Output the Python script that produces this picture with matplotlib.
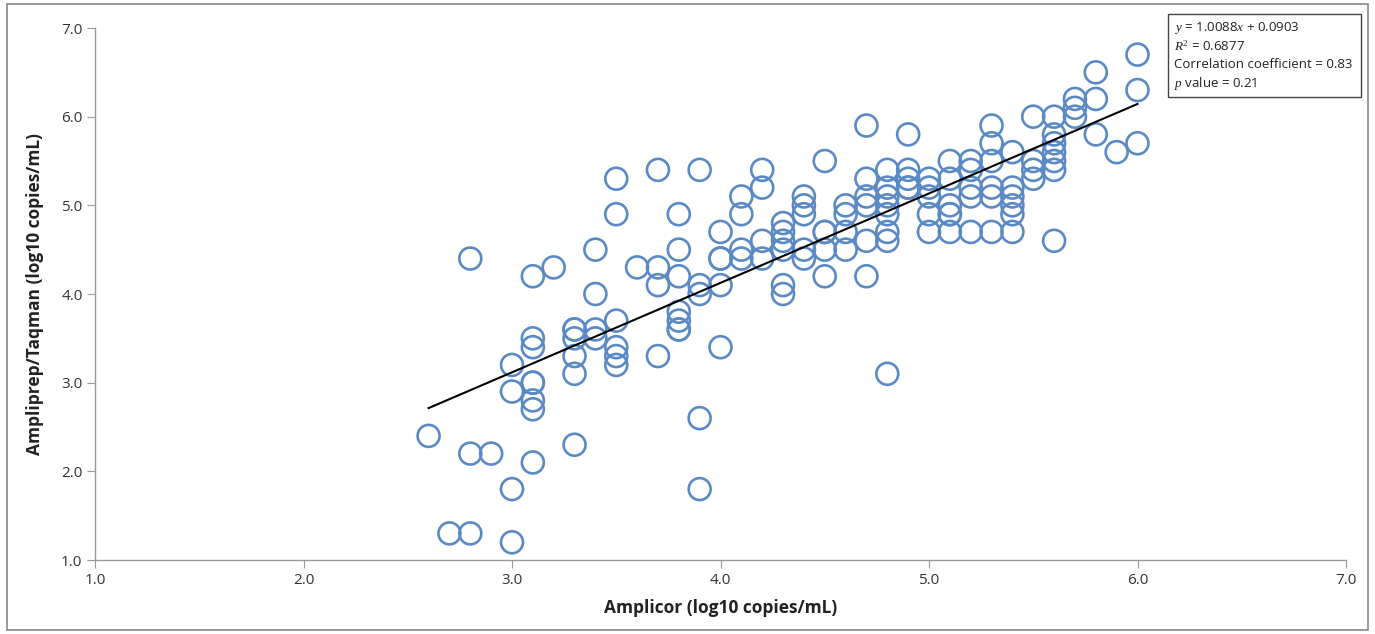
import matplotlib
matplotlib.use("Agg")
import matplotlib.pyplot as plt
from matplotlib.patches import Rectangle

plt.rcParams['font.family'] = ['Open Sans', 'DejaVu Sans']
plt.rcParams['mathtext.fontset'] = 'custom'
plt.rcParams['mathtext.it'] = 'Liberation Serif:italic'
plt.rcParams['mathtext.rm'] = 'Liberation Serif'

# data: Amplicor (x) vs Ampliprep/Taqman (y), log10 copies/mL
amplicor_cols = {
    2.6: [2.4],
    2.7: [1.3],
    2.8: [4.4, 2.2, 1.3],
    2.9: [2.2],
    3.0: [3.2, 2.9, 1.8, 1.2],
    3.1: [4.2, 3.5, 3.4, 3.0, 3.0, 2.8, 2.7, 2.1],
    3.2: [4.3],
    3.3: [3.6, 3.6, 3.5, 3.3, 3.1, 2.3],
    3.4: [4.5, 4.0, 3.6, 3.5],
    3.5: [5.3, 4.9, 3.7, 3.4, 3.3, 3.2],
    3.6: [4.3],
    3.7: [5.4, 4.3, 4.1, 3.3],
    3.8: [4.9, 4.5, 4.2, 3.8, 3.7, 3.6, 3.6],
    3.9: [5.4, 4.1, 4.0, 2.6, 1.8],
    4.0: [4.7, 4.4, 4.4, 4.1, 3.4],
    4.1: [5.1, 4.9, 4.5, 4.4],
    4.2: [5.4, 5.2, 4.6, 4.4],
    4.3: [4.8, 4.7, 4.6, 4.5, 4.1, 4.0],
    4.4: [5.1, 5.0, 4.9, 4.5, 4.4],
    4.5: [5.5, 4.7, 4.7, 4.5, 4.2],
    4.6: [5.0, 4.9, 4.7, 4.5],
    4.7: [5.9, 5.3, 5.1, 5.0, 4.6, 4.2],
    4.8: [5.4, 5.2, 5.1, 5.0, 4.9, 4.7, 4.6, 3.1],
    4.9: [5.8, 5.4, 5.3, 5.2, 5.2],
    5.0: [5.3, 5.2, 5.1, 4.9, 4.7],
    5.1: [5.5, 5.3, 5.0, 4.9, 4.9, 4.7],
    5.2: [5.5, 5.4, 5.2, 5.1, 4.7],
    5.3: [5.9, 5.7, 5.5, 5.2, 5.1, 4.7],
    5.4: [5.6, 5.2, 5.1, 5.0, 4.9, 4.7],
    5.5: [6.0, 5.5, 5.4, 5.3],
    5.6: [6.0, 5.8, 5.7, 5.6, 5.5, 5.4, 4.6],
    5.7: [6.2, 6.1, 6.0],
    5.8: [6.5, 6.2, 5.8],
    5.9: [5.6],
    6.0: [6.7, 6.3, 5.7],
}
x_vals = [x for x, ys in amplicor_cols.items() for _ in ys]
y_vals = [y for ys in amplicor_cols.values() for y in ys]

slope = 1.0088
intercept = 0.0903
fit_range = [2.6, 6.0]

x_ticks = [1.0, 2.0, 3.0, 4.0, 5.0, 6.0, 7.0]
y_ticks = [1.0, 2.0, 3.0, 4.0, 5.0, 6.0, 7.0]

W, H = 1375, 634
fig = plt.figure(figsize=(W / 100, H / 100), dpi=100)
ax = fig.add_axes([95 / W, 1 - 560 / H, (1346 - 95) / W, (560 - 28) / H])

blue = '#5A8AC6'
ax.scatter(x_vals, y_vals, s=250, facecolors='none', edgecolors=blue, linewidths=1.9, zorder=2)
ax.plot(fit_range, [slope * v + intercept for v in fit_range], color='black', lw=1.5, zorder=3)

ax.set_xlim(1.0, 7.0)
ax.set_ylim(1.0, 7.0)
ax.set_xticks(x_ticks)
ax.set_yticks(y_ticks)
ax.set_xticklabels([f'{v:.1f}' for v in x_ticks])
ax.set_yticklabels([f'{v:.1f}' for v in y_ticks])
for s in ['top', 'right']:
    ax.spines[s].set_visible(False)
for s in ['left', 'bottom']:
    ax.spines[s].set_color('#999999')
    ax.spines[s].set_linewidth(1.0)
ax.tick_params(direction='out', length=6, color='#999999', labelsize=11, labelcolor='#333333', pad=3)

ax.set_xlabel('Amplicor (log10 copies/mL)', fontsize=12.5, fontweight='bold', color='#222222', labelpad=8)
ax.set_ylabel('Ampliprep/Taqman (log10 copies/mL)', fontsize=12.5, fontweight='bold', color='#222222', labelpad=12)

# stats box
fig.patches.append(Rectangle((1168 / W, 1 - 97 / H), (1361 - 1168) / W, (97 - 14) / H,
                             transform=fig.transFigure, fill=True, facecolor='white',
                             edgecolor='#444444', lw=1.0, zorder=5))
lines = [r'$y$ = 1.0088$x$ + 0.0903', r'$R^2$ = 0.6877',
         'Correlation coefficient = 0.83', r'$p$ value = 0.21']
for i, t in enumerate(lines):
    fig.text(1174 / W, 1 - (28 + i * 18.5) / H, t, fontsize=9.5, color='#222222',
             va='center', ha='left', zorder=6)

# outer frame
fig.patches.append(Rectangle((7 / W, 4 / H), (1368 - 7) / W, (630 - 4) / H,
                             transform=fig.transFigure, fill=False, edgecolor='#888888', lw=1.2))

fig.savefig('out.png', dpi=100)
